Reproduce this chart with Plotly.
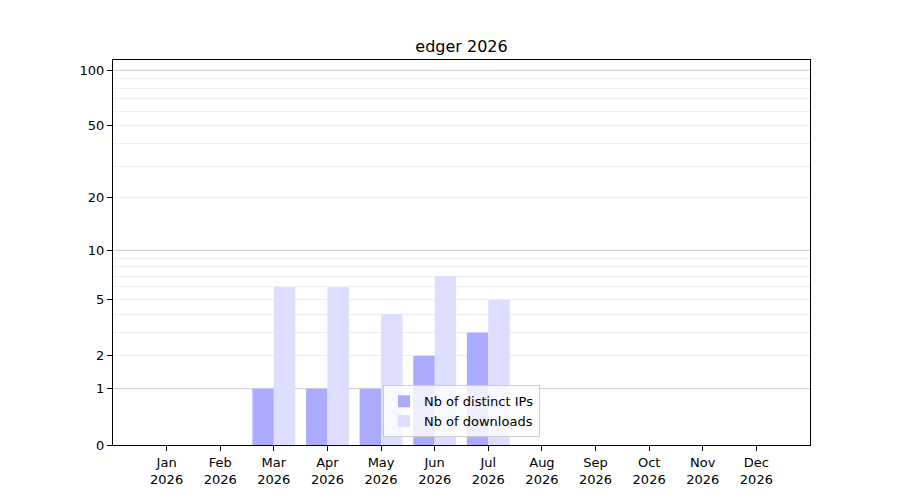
import numpy as np
import plotly.graph_objects as go

months = ["Jan", "Feb", "Mar", "Apr", "May", "Jun",
          "Jul", "Aug", "Sep", "Oct", "Nov", "Dec"]
year = "2026"
distinct_ips = [0, 0, 1, 1, 1, 2, 3, 0, 0, 0, 0, 0]
downloads = [0, 0, 6, 6, 4, 7, 5, 0, 0, 0, 0, 0]

y_ticks = [0, 1, 2, 5, 10, 20, 50, 100]
major_grid = [1, 10, 100]
minor_grid = [2, 3, 4, 5, 6, 7, 8, 9, 20, 30, 40, 50, 60, 70, 80, 90]


def tr(v):
    # the y scale is log10(1 + value)
    return np.log10(1 + np.asarray(v, dtype=float))


labels = [f"{m}<br>{year}" for m in months]

fig = go.Figure()
fig.add_trace(go.Bar(x=labels, y=tr(distinct_ips), name="Nb of distinct IPs",
                     marker=dict(color="#aaaaff", line=dict(width=0)),
                     customdata=distinct_ips, hovertemplate="%{customdata}"))
fig.add_trace(go.Bar(x=labels, y=tr(downloads), name="Nb of downloads",
                     marker=dict(color="#ddddff", line=dict(width=0)),
                     customdata=downloads, hovertemplate="%{customdata}"))

for v in major_grid:
    fig.add_shape(type="line", xref="paper", x0=0, x1=1, yref="y",
                  y0=float(tr(v)), y1=float(tr(v)), layer="below",
                  line=dict(color="#cccccc", width=1))

# page body adds 8px, so margins are shifted by that
fig.update_layout(
    width=900, height=500,
    margin=dict(l=105, r=98, t=52, b=63),
    paper_bgcolor="white", plot_bgcolor="white",
    font=dict(family="DejaVu Sans", size=13, color="black"),
    title=dict(text="edger 2026", xref="paper", x=0.5, xanchor="center",
               y=0.924, yanchor="middle", font=dict(size=16)),
    barmode="group", bargap=0.2, bargroupgap=0,
    showlegend=True,
    legend=dict(x=0.5, xanchor="center", y=0.02, yanchor="bottom",
                bgcolor="rgba(255,255,255,0.8)", bordercolor="#cccccc",
                borderwidth=1, font=dict(size=13)),
)

fig.update_xaxes(
    range=[-1, 12], showline=True, linecolor="black", linewidth=1,
    mirror=True, ticks="outside", ticklen=5, tickcolor="black",
    showgrid=False, zeroline=False,
)
fig.update_yaxes(
    range=[0, 2.059], showline=True, linecolor="black", linewidth=1,
    mirror=True, ticks="outside", ticklen=5, tickcolor="black",
    tickvals=tr(y_ticks), ticktext=[str(v) for v in y_ticks],
    showgrid=False, zeroline=False,
    minor=dict(tickvals=tr(minor_grid), showgrid=True,
               gridcolor="#eeeeee", gridwidth=1, ticks=""),
)

fig.write_html("out.html")
